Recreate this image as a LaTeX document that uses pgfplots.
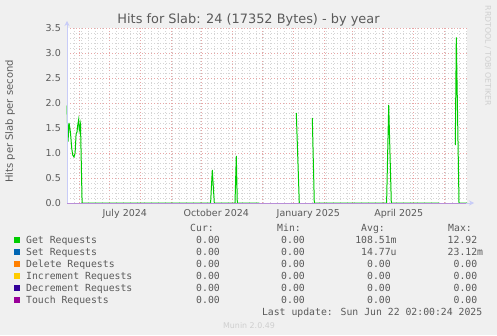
\documentclass[border=0pt]{standalone}
\usepackage{fontspec}
\setmainfont{DejaVu Sans}
\newfontfamily\monofont{DejaVu Sans Mono}
\usepackage{pgfplots}
\pgfplotsset{compat=1.18}
\usetikzlibrary{arrows.meta}
\definecolor{bg}{HTML}{F0F0F0}
\definecolor{fontc}{HTML}{5A5A5A}
\definecolor{axisc}{HTML}{C8CCF8}
\definecolor{mgrid}{HTML}{E8A6A6}
\definecolor{mingrid}{HTML}{D4D4D4}
\definecolor{zeroc}{HTML}{B98ED8}
\definecolor{cget}{HTML}{00CC00}
\definecolor{cset}{HTML}{0066B3}
\definecolor{cdel}{HTML}{FF8000}
\definecolor{cinc}{HTML}{FFCC00}
\definecolor{cdec}{HTML}{330099}
\definecolor{ctouch}{HTML}{990099}
\definecolor{faint}{HTML}{CFCFCF}
\begin{document}
\begin{tikzpicture}[x=1pt,y=1pt]
\useasboundingbox (0,0) rectangle (497,335);
\fill[bg] (0,0) rectangle (497,335);
\begin{axis}[
  at={(67pt,132pt)}, anchor=south west,
  scale only axis, width=400pt, height=175pt,
  xmin=-42.3, xmax=357.7, ymin=0, ymax=3.5,
  axis background/.style={fill=white},
  axis line style={draw=none},
  clip=false,
  unbounded coords=jump,
  xtick={-30,0,31,62,92,123,153,184,215,243,274,304,335},
  xticklabels={},
  minor xtick={-42,-35,...,357},
  extra x ticks={15.5,107,199,289.5},
  extra x tick labels={July 2024,October 2024,January 2025,April 2025},
  extra x tick style={grid=none},
  ytick={0,0.5,1,1.5,2,2.5,3,3.5},
  minor ytick={0.1,0.2,0.3,0.4,0.6,0.7,0.8,0.9,1.1,1.2,1.3,1.4,1.6,1.7,1.8,1.9,2.1,2.2,2.3,2.4,2.6,2.7,2.8,2.9,3.1,3.2,3.3,3.4},
  grid=both,
  major grid style={draw=mgrid, line width=0.7pt, dash pattern=on 1pt off 2pt},
  minor grid style={draw=mingrid, line width=0.6pt, dash pattern=on 1pt off 2pt},
  major tick length=0pt, minor tick length=0pt,
  /pgf/number format/assume math mode=true,
  y tick label style={/pgf/number format/fixed, /pgf/number format/fixed zerofill, /pgf/number format/precision=1},
  tick label style={font=\fontsize{9.5}{10}\selectfont, text=fontc, inner sep=0pt},
  yticklabel style={anchor=east, xshift=-6pt},
  xticklabel style={anchor=base, yshift=-13pt},
]
\addplot[cget, line width=1pt] coordinates {
(-42.3,1.95) (-41.3,1.23) (-40.2,1.6) (-38.8,1.4) (-37.6,1.1) (-36.6,0.96) (-35.3,0.92) (-34.2,1.0) (-33.2,1.38) (-32.3,1.42) (-31.6,1.55) (-30.6,1.67) (-30,1.45) (-28.8,1.58) (-27.2,0)
(101.3,0) (103,0.66) (105,0) (125.7,0) (127,0.94) (128,0) (150,0) (nan,nan)
(187,1.8) (190,0) (202.9,nan) (203,1.7) (205,0) (277.3,0) (279.4,1.96) (282,0) (330,0) (nan,nan)
(346,1.16) (347,3.31) (349.7,0) (357.7,0)
};
\addplot[zeroc, line width=1pt] coordinates {(-42.3,0) (357.7,0)};
\end{axis}
\draw[axisc, line width=1pt, -{Stealth[length=5pt,width=5pt]}] (67,132) -- (67,314);
\draw[axisc, line width=1pt, -{Stealth[length=5pt,width=5pt]}] (466,132) -- (474,132);
% title and labels
\node[text=fontc, font=\fontsize{12.9}{14}\selectfont, anchor=base] at (248.5,311) {Hits for Slab: 24 (17352 Bytes) - by year};
\node[text=fontc, font=\fontsize{10}{11}\selectfont, rotate=90, inner sep=0pt] at (10,213.5) {Hits per Slab per second};
\node[text=faint, font=\fontsize{7.8}{9}\selectfont, rotate=-90, inner sep=0pt] at (488,279) {RRDTOOL / TOBI OETIKER};
% legend
\begin{scope}[every node/.style={inner sep=0pt, text=fontc, font=\monofont\fontsize{9.8}{11}\selectfont}]
\node[anchor=base west] at (190,104) {Cur:};
\node[anchor=base west] at (277,104) {Min:};
\node[anchor=base west] at (361,104) {Avg:};
\node[anchor=base west] at (448,104) {Max:};
\foreach \y/\c/\name/\avg/\mx in {
  92/cget/Get Requests/108.51m/12.92\phantom{m},
  80/cset/Set Requests/14.77u/23.12m,
  68/cdel/Delete Requests/0.00\phantom{m}/0.00\phantom{m},
  56/cinc/Increment Requests/0.00\phantom{m}/0.00\phantom{m},
  44/cdec/Decrement Requests/0.00\phantom{m}/0.00\phantom{m},
  32/ctouch/Touch Requests/0.00\phantom{m}/0.00\phantom{m}} {
  \fill[\c] (14,\y+0.5) rectangle (20,\y+6.5);
  \node[anchor=base west] at (26,\y) {\name};
  \node[anchor=base east] at (220,\y) {0.00};
  \node[anchor=base east] at (305,\y) {0.00};
  \node[anchor=base east] at (396.8,\y) {\avg};
  \node[anchor=base east] at (483.3,\y) {\mx};
}
\node[anchor=base east] at (482.5,19.5) {Last update: Sun Jun 22 02:00:24 2025};
\end{scope}
\node[text=faint, font=\fontsize{7.9}{9}\selectfont, anchor=base, inner sep=0pt] at (249,7) {Munin 2.0.49};
\end{tikzpicture}
\end{document}
